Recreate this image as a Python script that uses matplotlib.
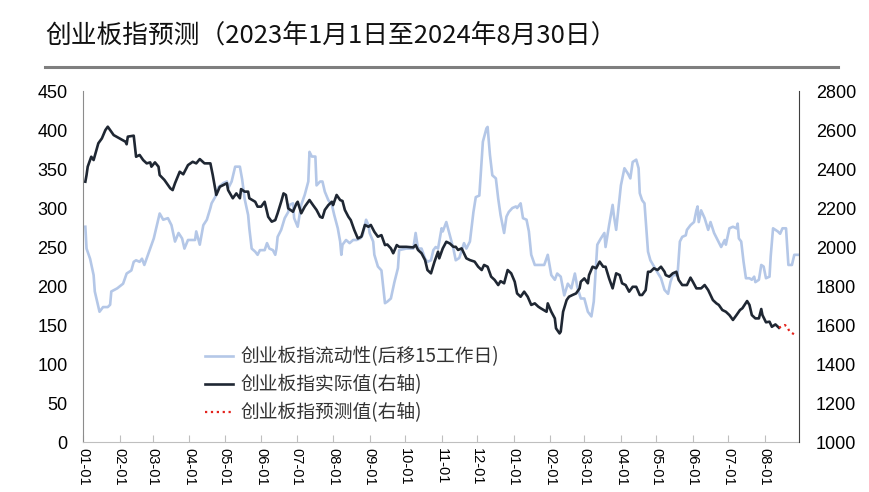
import matplotlib
matplotlib.use("Agg")
import matplotlib.pyplot as plt
from matplotlib.lines import Line2D
import pandas as pd

plt.rcParams["font.family"] = ["Noto Sans CJK SC", "DejaVu Sans"]

BASE_DATE = pd.Timestamp("2023-01-01")

# liquidity (left axis), days counted from BASE_DATE
liq_days = [
    2, 3, 6, 9, 10, 12, 14, 17, 21, 23, 24, 29, 34, 37, 41, 43, 45, 48, 50, 52,
    57, 60, 65, 68, 72, 75, 78, 81, 84, 86, 89, 95, 96, 99, 102, 105, 108, 109, 112, 115,
    119, 122, 123, 126, 129, 133, 135, 137, 140, 141, 143, 146, 148, 150, 154, 156, 158, 161, 163, 164,
    165, 168, 171, 174, 175, 178, 179, 182, 185, 188, 191, 192, 194, 197, 198, 201, 203, 205, 208, 211,
    213, 216, 218, 219, 220, 223, 226, 229, 232, 235, 237, 240, 242, 243, 246, 247, 250, 253, 256, 258,
    261, 264, 267, 268, 274, 280, 282, 284, 287, 290, 292, 295, 297, 299, 301, 304, 305, 308, 311, 314,
    316, 319, 323, 325, 328, 331, 333, 336, 339, 342, 343, 345, 347, 350, 352, 354, 357, 359, 361, 364,
    367, 368, 371, 373, 376, 378, 380, 383, 391, 394, 397, 400, 402, 405, 408, 411, 414, 417, 419, 422,
    425, 428, 431, 433, 436, 439, 442, 443, 446, 449, 450, 452, 456, 459, 462, 464, 466, 469, 471, 472,
    474, 476, 479, 481, 486, 490, 493, 496, 498, 500, 504, 506, 508, 511, 512, 515, 518, 520, 521, 522,
    524, 527, 528, 530, 532, 535, 538, 541, 544, 545, 548, 551, 554, 555, 556, 558, 560, 562, 565, 567,
    569, 570, 573, 575, 577, 579, 582, 583, 585, 589, 591, 593, 596, 598, 601, 603, 606,
]
liq_values = [
    276, 248, 235, 214, 193, 180, 167, 173, 173, 176, 193, 197, 203, 216, 220, 231, 233, 231, 235, 227,
    248, 261, 293, 285, 287, 278, 257, 268, 261, 248, 259, 259, 270, 253, 278, 285, 300, 306, 314, 327,
    332, 334, 325, 334, 353, 353, 336, 312, 291, 274, 248, 244, 240, 246, 246, 255, 248, 246, 240, 248,
    263, 272, 287, 295, 304, 306, 287, 276, 304, 317, 334, 372, 366, 366, 329, 334, 334, 321, 310, 304,
    291, 274, 257, 240, 253, 259, 255, 259, 259, 261, 265, 285, 278, 268, 257, 240, 225, 220, 178, 180,
    184, 205, 223, 246, 248, 248, 268, 248, 248, 235, 231, 233, 246, 250, 248, 274, 270, 282, 265, 248,
    233, 236, 255, 248, 257, 295, 314, 316, 385, 402, 404, 368, 342, 338, 312, 291, 268, 289, 295, 300,
    302, 300, 306, 287, 285, 270, 240, 227, 227, 240, 214, 208, 216, 212, 188, 203, 197, 216, 199, 184,
    184, 167, 161, 180, 253, 261, 268, 250, 278, 304, 291, 272, 329, 351, 344, 338, 359, 362, 351, 319,
    310, 306, 244, 233, 220, 210, 195, 190, 205, 214, 214, 257, 263, 265, 272, 278, 282, 297, 302, 282,
    297, 287, 282, 272, 282, 268, 259, 250, 259, 253, 274, 276, 274, 280, 261, 257, 231, 210, 210, 208,
    212, 205, 208, 227, 225, 210, 212, 238, 274, 270, 267, 274, 274, 227, 227, 240, 240,
]

# ChiNext index actual close (right axis)
actual_days = [
    2, 3, 4, 7, 9, 13, 16, 19, 21, 24, 26, 36, 37, 38, 43, 45, 48, 51, 54, 57,
    58, 61, 64, 65, 69, 72, 74, 76, 78, 82, 85, 89, 93, 96, 99, 103, 108, 110, 113, 116,
    122, 123, 127, 130, 133, 134, 137, 140, 141, 146, 148, 151, 154, 157, 160, 163, 165, 168, 170, 172,
    174, 178, 181, 182, 185, 188, 192, 195, 198, 201, 203, 205, 208, 211, 212, 215, 218, 220, 222, 225,
    227, 230, 233, 236, 239, 242, 244, 247, 250, 253, 256, 258, 261, 263, 266, 268, 274, 280, 282, 284,
    287, 290, 292, 295, 298, 301, 302, 305, 308, 311, 314, 316, 318, 321, 323, 325, 328, 332, 335, 338,
    340, 343, 346, 349, 352, 354, 357, 360, 363, 366, 368, 371, 374, 377, 380, 383, 386, 388, 393, 394,
    397, 400, 401, 404, 405, 407, 410, 412, 415, 418, 421, 422, 425, 428, 429, 432, 435, 438, 441, 443,
    446, 449, 452, 455, 457, 460, 463, 466, 469, 472, 474, 477, 479, 481, 484, 487, 490, 493, 494, 497,
    500, 503, 505, 508, 512, 515, 517, 520, 524, 527, 530, 534, 537, 539, 542, 545, 548, 551, 554, 557,
    559, 563, 565, 567, 570, 573, 575, 576, 579, 582, 584, 587, 590,
]
actual_values = [
    2335, 2369, 2412, 2463, 2446, 2532, 2557, 2600, 2617, 2591, 2574, 2540, 2527, 2566, 2571, 2463, 2472, 2446, 2429, 2434,
    2412, 2434, 2412, 2369, 2344, 2318, 2301, 2292, 2327, 2386, 2373, 2420, 2437, 2429, 2451, 2429, 2429, 2369, 2267, 2309,
    2327, 2292, 2250, 2275, 2250, 2297, 2284, 2284, 2250, 2232, 2207, 2207, 2232, 2155, 2130, 2138, 2173, 2232, 2275, 2267,
    2198, 2181, 2224, 2232, 2173, 2207, 2241, 2215, 2190, 2155, 2150, 2190, 2215, 2232, 2215, 2267, 2241, 2236, 2190, 2155,
    2138, 2087, 2044, 2053, 2113, 2104, 2113, 2078, 2053, 2061, 2010, 2013, 1993, 1968, 2010, 2001, 2001, 1998, 2010, 1985,
    1968, 1933, 1882, 1865, 1925, 1976, 1942, 1993, 2027, 2018, 2001, 2001, 1985, 1993, 1968, 1942, 1933, 1925, 1899, 1882,
    1908, 1899, 1848, 1831, 1805, 1825, 1814, 1882, 1865, 1822, 1762, 1745, 1771, 1745, 1703, 1711, 1694, 1686, 1668, 1711,
    1668, 1634, 1583, 1557, 1566, 1668, 1728, 1745, 1754, 1762, 1788, 1822, 1839, 1814, 1856, 1899, 1891, 1925, 1899, 1899,
    1839, 1788, 1865, 1856, 1814, 1805, 1771, 1796, 1796, 1754, 1754, 1779, 1873, 1873, 1891, 1882, 1899, 1873, 1856, 1848,
    1865, 1873, 1831, 1805, 1805, 1843, 1822, 1788, 1788, 1805, 1779, 1728, 1711, 1703, 1677, 1668, 1651, 1626, 1651, 1677,
    1686, 1723, 1703, 1651, 1634, 1634, 1682, 1651, 1614, 1617, 1591, 1603, 1586,
]

# forecast (right axis)
pred_days = [590, 595, 597, 599, 603]
pred_values = [1586, 1600, 1591, 1566, 1552]

labels = [
    "创业板指流动性(后移15工作日)",
    "创业板指实际值(右轴)",
    "创业板指预测值(右轴)",
]

month_ticks = pd.date_range("2023-01-01", "2024-08-01", freq="MS")
tick_labels = [d.strftime("%m-%d") for d in month_ticks]


def to_dates(days):
    return BASE_DATE + pd.to_timedelta(days, unit="D")


fig = plt.figure(figsize=(8.7, 4.92), dpi=100)
ax = fig.add_axes([0.0954, 0.1016, 0.8230, 0.7134])
ax2 = ax.twinx()

l1, = ax.plot(to_dates(liq_days), liq_values, color="#b4c7e7", lw=1.9)
l2, = ax2.plot(to_dates(actual_days), actual_values, color="#1f2733", lw=1.9)
l3, = ax2.plot(to_dates(pred_days), pred_values, color="#e3231c", lw=1.6, ls=":")

ax.set_xlim(BASE_DATE, pd.Timestamp("2024-08-30"))
ax.set_ylim(0, 450)
ax.set_yticks(range(0, 451, 50))
ax2.set_ylim(1000, 2800)
ax2.set_yticks(range(1000, 2801, 200))

# month labels, kept small enough to fit above the figure's lower edge
ax.set_xticks(month_ticks)
ax.set_xticklabels(tick_labels, rotation=-90, ha="center", va="top",
                   family=["Liberation Sans", "DejaVu Sans"], fontsize=10.5)
ax.tick_params(axis="x", direction="in", length=5, color="#bfbfbf", pad=4)
ax.tick_params(axis="y", length=0, pad=11, labelsize=13)
ax2.tick_params(axis="y", length=0, pad=12, labelsize=13)
for lab in ax.get_yticklabels() + ax2.get_yticklabels():
    lab.set_family(["Liberation Sans", "DejaVu Sans"])

for s in ["top", "right"]:
    ax.spines[s].set_visible(False)
ax.spines["left"].set_color("#8c8c8c")
ax.spines["bottom"].set_color("#bfbfbf")
for s in ["top", "left", "bottom"]:
    ax2.spines[s].set_visible(False)
ax2.spines["right"].set_color("#404040")

ax2.legend([l1, l2, l3], labels, loc="upper left",
           bbox_to_anchor=(0.236, 0.296), bbox_transform=fig.transFigure,
           frameon=False, fontsize=13.5, handlelength=1.5, handletextpad=0.4,
           labelspacing=0.38, borderpad=0, borderaxespad=0,
           labelcolor="#333333")

fig.text(45 / 870, 1 - 36 / 492, "创业板指预测（2023年1月1日至2024年8月30日）",
         fontsize=18.5, va="center", ha="left", color="#111111")
fig.add_artist(Line2D([45 / 870, 838 / 870], [1 - 67 / 492] * 2,
                      color="#7f7f7f", lw=2.2))

fig.savefig("out.png", dpi=100)
